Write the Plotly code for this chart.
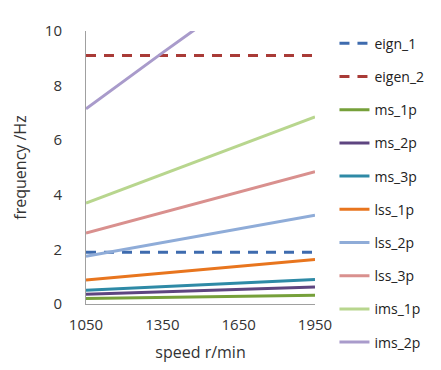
import plotly.graph_objects as go

speed = [1050, 1350, 1650, 1950]
series_names = ["eign_1", "eigen_2", "ms_1p", "ms_2p", "ms_3p",
                "lss_1p", "lss_2p", "lss_3p", "ims_1p", "ims_2p"]
eign_1 = [1.9, 1.9, 1.9, 1.9]
eigen_2 = [9.1, 9.1, 9.1, 9.1]
ms_1p = [0.2, 0.24, 0.28, 0.32]
ms_2p = [0.36, 0.45, 0.53, 0.62]
ms_3p = [0.5, 0.63, 0.77, 0.9]
lss_1p = [0.88, 1.13, 1.38, 1.63]
lss_2p = [1.75, 2.25, 2.75, 3.25]
lss_3p = [2.6, 3.35, 4.1, 4.85]
ims_1p = [3.7, 4.75, 5.8, 6.85]
ims_2p = [7.15, 9.2, 11.2, 13.3]
y_ticks = [0, 2, 4, 6, 8, 10]

values = [eign_1, eigen_2, ms_1p, ms_2p, ms_3p, lss_1p, lss_2p, lss_3p, ims_1p, ims_2p]
colors = ["#3E6BAE", "#A93B37", "#76A03A", "#5E4580", "#2E8AA6",
          "#E8751E", "#8FACD8", "#D9908E", "#B8D68E", "#A99BCB"]
dashes = ["10px,8px", "10px,8px"] + ["solid"] * 8

FONT = "Open Sans"
fig = go.Figure()
for i, (name, vals) in enumerate(zip(series_names, values)):
    fig.add_trace(go.Scatter(
        x=speed, y=vals, name=name, mode="lines",
        legendgroup=name,
        line=dict(color=colors[i], width=3, dash=dashes[i]),
    ))

fig.update_layout(
    width=441, height=370,
    margin=dict(l=71, r=134, t=18, b=74),
    plot_bgcolor="white", paper_bgcolor="white",
    font=dict(family=FONT, size=14, color="#333333"),
    showlegend=True,
    legend=dict(x=1.085, y=1.012, xanchor="left", yanchor="top",
                tracegroupgap=12, font=dict(size=14, color="#222222"),
                bgcolor="rgba(0,0,0,0)", maxheight=1.0),
    xaxis=dict(range=[1050, 1950], tickvals=speed, showgrid=False, zeroline=False,
               showline=True, linecolor="#A0A0A0", linewidth=1,
               tickfont=dict(size=15, color="#333333"),
               ticks="outside", ticklen=7, tickcolor="rgba(0,0,0,0)",
               title=dict(text="speed r/min", font=dict(size=16, color="#333333"), standoff=13)),
    yaxis=dict(range=[0, 10], tickvals=y_ticks, showgrid=False, zeroline=False,
               showline=True, linecolor="#A0A0A0", linewidth=1,
               tickfont=dict(size=15, color="#333333"),
               ticks="outside", ticklen=20, tickcolor="rgba(0,0,0,0)",
               title=dict(text="frequency /Hz", font=dict(size=16, color="#333333"), standoff=14)),
)
fig.write_html("out.html")
